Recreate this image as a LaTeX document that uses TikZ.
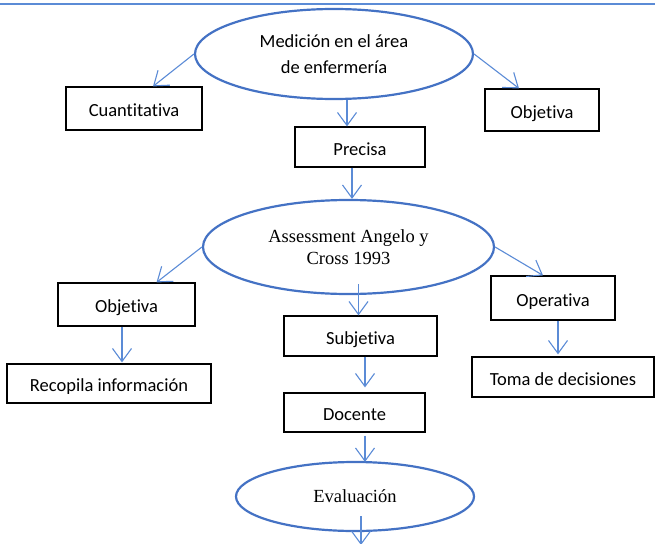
\documentclass[tikz,border=0pt]{standalone}
\usepackage{fontspec}
\setmainfont{Liberation Serif}
\newfontfamily\calibri[Ligatures=NoCommon]{Carlito}
\usetikzlibrary{positioning}
\usetikzlibrary{shapes.geometric,calc}
\usetikzlibrary{arrows.meta}
\definecolor{wordblue}{HTML}{4472C4}
\definecolor{lineblue}{HTML}{5B8BD6}
\tikzset{
	oval/.style={ellipse,draw=wordblue,line width=2.2pt,inner sep=0pt,align=center,font=\fontsize{18.5}{21.5}\selectfont},
	box/.style={rectangle,draw=black,line width=1.2pt,inner sep=0pt,text height=16pt,text depth=0pt,font=\calibri\fontsize{18.5}{23}\selectfont},
	conn/.style={draw=lineblue,line width=1.1pt,-{Straight Barb[length=13pt,width=19pt]}}
}
\begin{document}
\begin{tikzpicture}[x=1pt,y=-1pt]
		\useasboundingbox (0,0) rectangle (655,543);
		\draw [lineblue,line width=1.6pt] (0,4) -- (655,4);
		\node[oval,minimum width=278pt,minimum height=90pt,align=center,font=\calibri\fontsize{18.5}{23}\selectfont,name=med] at (334,54) {Medición en el área\\[3pt]de enfermería};
		\node[box,minimum width=136pt,minimum height=43pt,name=cuant] at (134,108.5) {Cuantitativa};
		\node[box,minimum width=114pt,minimum height=42pt,name=obja] at (542,110) {Objetiva};
		\node[box,minimum width=130pt,minimum height=40pt,name=prec] at (360,147) {Precisa};
		\node[oval,minimum width=291pt,minimum height=94pt,name=ass] at (348.5,247) {Assessment Angelo y\\[1pt]Cross 1993};
		\node[box,minimum width=137pt,minimum height=43pt,name=objb] at (126.5,304.5) {Objetiva};
		\node[box,minimum width=124pt,minimum height=44pt,name=oper] at (553,298) {Operativa};
		\node[box,minimum width=153pt,minimum height=40pt,name=subj] at (360.5,336) {Subjetiva};
		\node[box,minimum width=204pt,minimum height=39pt,name=recop] at (109,383.5) {Recopila información};
		\node[box,minimum width=182pt,minimum height=40pt,name=toma] at (563,377) {Toma de decisiones};
		\node[box,minimum width=141pt,minimum height=39pt,name=doc] at (354.5,412.5) {Docente};
		\node[oval,minimum width=238pt,minimum height=69pt,name=eval] at (355,496.5) {Evaluación};
		\coordinate (out) at (361,545);
		\draw [conn] (med.west) -- ($(cuant.north)+(19,0)$);
		\draw [conn] (med.east) -- ($(obja.north)+(-23,0)$);
		\draw [conn] ($(med.south -| prec.north)+(-13,0)$) -- ($(prec.north)+(-13,0)$);
		\draw [conn] ($(prec.south)+(-8,0)$) -- ($(ass.north -| prec.south)+(-8,0)$);
		\draw [conn] (ass.west) -- ($(objb.north)+(30,0)$);
		\draw [conn] (ass.east) -- ($(oper.north)+(-10,0)$);
		\draw [conn] ($(ass.south -| subj.north)+(-2,-11)$) -- ($(subj.north)+(-2,0)$);
		\draw [conn] ($(objb.south)+(-4.5,0)$) -- ($(recop.north -| objb.south)+(-4.5,-1)$);
		\draw [conn] ($(oper.south)+(5,0)$) -- ($(toma.north -| oper.south)+(5,-2)$);
		\draw [conn] ($(subj.south)+(4.5,0)$) -- ($(doc.north -| subj.south)+(4.5,-5)$);
		\draw [conn] ($(doc.south)+(10.5,3)$) -- ($(eval.north -| doc.south)+(10.5,1)$);
		\draw [conn] ($(eval.south -| out)+(0,-16)$) -- (out);
	\end{tikzpicture}
\end{document}
